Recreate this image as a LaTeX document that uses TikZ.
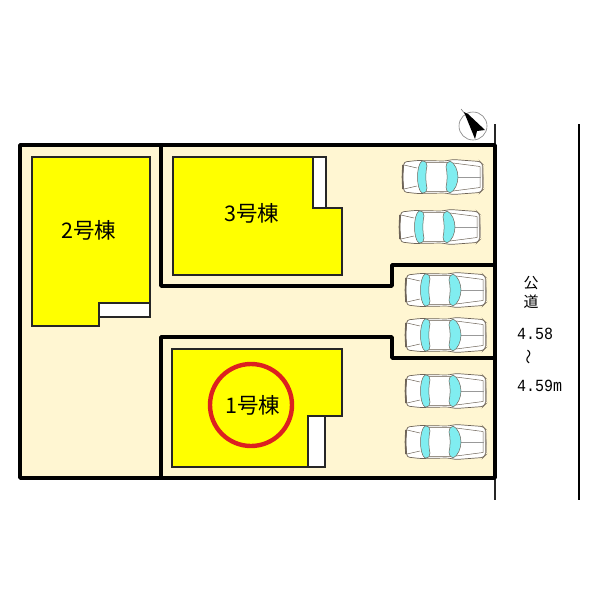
\documentclass[tikz,border=0pt]{standalone}
\usepackage{fontspec}
\setmainfont{Noto Sans CJK JP}
\newfontfamily\latinmono{Liberation Mono}
\definecolor{lot}{HTML}{FFF6D2}
\definecolor{glass}{HTML}{80EDF0}
\definecolor{carline}{HTML}{6E6458}
\definecolor{pureyellow}{RGB}{255,255,0}
\definecolor{ringred}{HTML}{DC2020}
\tikzset{
  x=1pt,y=-1pt,
  wall/.style={line width=3.4pt,line join=round,line cap=round},
  house/.style={draw=black!85,line width=1.8pt,fill=pureyellow,line join=miter},
  notch/.style={draw=black!85,line width=1.8pt,fill=white},
  label/.style={font=\fontsize{21.5}{22}\selectfont,inner sep=0pt},
  road/.style={font=\fontsize{15}{15}\selectfont,inner sep=0pt},
  dim/.style={font=\latinmono\fontsize{17}{17}\selectfont,inner sep=0pt,transform shape,xscale=.88},
  car/.pic={
    \draw[carline,line width=.7pt,fill=white,rounded corners=2.5pt]
      (1,2) -- (14,.5) -- (42,1) -- (50,-.5) -- (77,1.5) -- (79.5,4) -- (80,17) -- (79.5,30) -- (77,32.5) -- (50,34.5) -- (42,33) -- (14,33.5) -- (1,32) -- (-.5,17) -- cycle;
    \draw[carline,line width=1.6pt] (0,5) -- (-.5,17) -- (0,29);
    \draw[carline!70,line width=1.5pt] (79.5,6) -- (80,28);
    \draw[carline!70,line width=1.6pt] (20,2.5) -- (45,2.5) (20,31.5) -- (45,31.5);
    \draw[carline,line width=.5pt] (1,5) -- (14,8) (1,29) -- (14,26);
    \draw[carline,line width=.5pt] (50,3) -- (77,6.5) -- (77,27.5) -- (50,31);
    \draw[black!40,line width=.8pt] (54,17) -- (78,17);
    \draw[carline,line width=.5pt,fill=glass] (19,1) .. controls (13,5) and (13,29) .. (19,33) .. controls (23,33) and (24,31) .. (24,28) .. controls (22.5,22) and (22.5,12) .. (24,6) .. controls (24,3) and (23,1) .. (19,1) -- cycle;
    \draw[carline,line width=.5pt,fill=glass] (47,1) .. controls (52,3) and (55,11) .. (55,17) .. controls (55,23) and (52,31) .. (47,33) .. controls (44,32) and (43,30) .. (43,27) .. controls (44.5,21) and (44.5,13) .. (43,7) .. controls (43,4) and (44,2) .. (47,1) -- cycle;
  }
}
\begin{document}
\begin{tikzpicture}
\useasboundingbox (0,0) rectangle (600,600);
\fill[white] (0,0) rectangle (600,600);
% lot
\fill[lot] (20,145) rectangle (495,478);
% road edges
\draw[line width=1.5pt,black!85] (495,124) -- (495,500);
\draw[line width=2.4pt,black] (579,124) -- (579,500);
% boundaries
\draw[wall] (20,145) rectangle (495,478);
\draw[wall] (161,145) -- (161,286) -- (392,286) -- (392,265) -- (495,265);
\draw[wall] (161,478) -- (161,337) -- (392,337) -- (392,358) -- (495,358);
% house 2
\draw[notch] (99,303) rectangle (150,317);
\draw[house] (32,157) -- (150,157) -- (150,303) -- (99,303) -- (99,326) -- (32,326) -- cycle;
% house 3
\draw[notch] (313,157) rectangle (326,208);
\draw[house] (173,157) -- (313,157) -- (313,208) -- (342,208) -- (342,275) -- (173,275) -- cycle;
% house 1
\draw[notch] (308,416) rectangle (325,467);
\draw[house] (172,349) -- (342,349) -- (342,416) -- (308,416) -- (308,467) -- (172,467) -- cycle;
% labels
\node[label] (h2) at (89,230) {2号棟};
\node[label] (h3) at (252,213) {3号棟};
\node[label] (h1) at (253,405) {1号棟};
\draw[ringred,line width=4.4pt] (251,405) circle (41);
% cars
\pic at (403,160) {car};
\pic at (400,210) {car};
\pic at (406,273) {car};
\pic at (406,318) {car};
\pic at (406,374) {car};
\pic at (406,425) {car};
% compass
\draw[black!50,line width=.6pt,fill=white] (473,126) circle (14);
\draw[black!50,line width=.6pt] (461,109) -- (466,115);
\fill[black] (464,112) -- (468,114) -- (485,130) -- (477,131) -- (475,139) -- cycle;
% road text
\node[road] (kou) at (531,283) {公};
\node[road] (dou) at (531,302) {道};
\node[dim,anchor=west] (w1) at (517,334) {4.58};
\node[road,rotate=90] (tilde) at (531,357) {〜};
\node[dim,anchor=west] (w2) at (517,386) {4.59m};
\end{tikzpicture}
\end{document}
